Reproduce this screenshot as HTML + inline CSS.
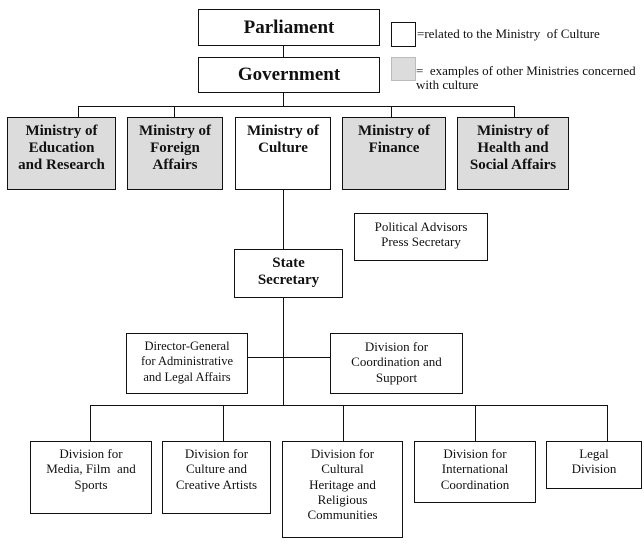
<!DOCTYPE html>
<html>
<head>
<meta charset="utf-8">
<style>
  html, body { margin:0; padding:0; background:#fff; }
  body { width:644px; height:545px; position:relative; overflow:hidden; font-family:"Liberation Serif", serif; color:#111; }
  .b { position:absolute; box-sizing:border-box; border:1px solid #111; background:#fff; text-align:center; }
  .g { background:#dcdcdc; }
  .min { font-weight:bold; font-size:15px; line-height:17px; padding-top:5px; }
  .div { font-size:13px; line-height:15.3px; padding-top:4px; }
  .top { font-weight:bold; font-size:19px; display:flex; align-items:center; justify-content:center; }
  svg { position:absolute; left:0; top:0; }
  .leg { position:absolute; font-size:13px; line-height:14px; white-space:nowrap; }
</style>
</head>
<body>
<svg width="644" height="545" viewBox="0 0 644 545">
  <g stroke="#111" stroke-width="1" fill="none">
    <line x1="283.5" y1="45" x2="283.5" y2="57"/>
    <line x1="283.5" y1="92" x2="283.5" y2="106"/>
    <line x1="78" y1="106.5" x2="515" y2="106.5"/>
    <line x1="78.5" y1="106" x2="78.5" y2="118"/>
    <line x1="174.5" y1="106" x2="174.5" y2="118"/>
    <line x1="391.5" y1="106" x2="391.5" y2="118"/>
    <line x1="514.5" y1="106" x2="514.5" y2="118"/>
    <line x1="283.5" y1="189" x2="283.5" y2="406"/>
    <line x1="247" y1="357.5" x2="331" y2="357.5"/>
    <line x1="90" y1="405.5" x2="608" y2="405.5"/>
    <line x1="90.5" y1="405" x2="90.5" y2="442"/>
    <line x1="223.5" y1="405" x2="223.5" y2="442"/>
    <line x1="343.5" y1="405" x2="343.5" y2="442"/>
    <line x1="475.5" y1="405" x2="475.5" y2="442"/>
    <line x1="607.5" y1="405" x2="607.5" y2="442"/>
  </g>
</svg>

<div class="b top" style="left:198px;top:9px;width:182px;height:37px;">Parliament</div>
<div class="b top" style="left:198px;top:57px;width:182px;height:36px;">Government</div>

<div class="b" style="left:391px;top:22px;width:25px;height:25px;"></div>
<div class="leg" style="left:417px;top:27px;">=related to the Ministry&nbsp; of Culture</div>
<div class="b g" style="left:391px;top:57px;width:25px;height:24px;border-color:#bbb;"></div>
<div class="leg" style="left:416px;top:64px;">= &nbsp;examples of other Ministries concerned<br>with culture</div>

<div class="b g min" style="left:7px;top:117px;width:109px;height:73px;">Ministry of<br>Education<br>and Research</div>
<div class="b g min" style="left:127px;top:117px;width:96px;height:73px;">Ministry of<br>Foreign<br>Affairs</div>
<div class="b min" style="left:235px;top:117px;width:96px;height:73px;">Ministry of<br>Culture</div>
<div class="b g min" style="left:342px;top:117px;width:104px;height:73px;">Ministry of<br>Finance</div>
<div class="b g min" style="left:457px;top:117px;width:112px;height:73px;">Ministry of<br>Health and<br>Social Affairs</div>

<div class="b div" style="left:354px;top:213px;width:134px;height:48px;padding-top:5px;">Political Advisors<br>Press Secretary</div>
<div class="b min" style="left:234px;top:249px;width:109px;height:49px;padding-top:5px;">State<br>Secretary</div>

<div class="b div" style="left:126px;top:333px;width:122px;height:61px;font-size:12.5px;padding-top:5px;">Director-General<br>for Administrative<br>and Legal Affairs</div>
<div class="b div" style="left:330px;top:333px;width:133px;height:61px;padding-top:5px;">Division for<br>Coordination and<br>Support</div>

<div class="b div" style="left:30px;top:441px;width:122px;height:73px;">Division for<br>Media, Film&nbsp; and<br>Sports</div>
<div class="b div" style="left:162px;top:441px;width:109px;height:73px;">Division for<br>Culture and<br>Creative Artists</div>
<div class="b div" style="left:282px;top:441px;width:121px;height:97px;">Division for<br>Cultural<br>Heritage and<br>Religious<br>Communities</div>
<div class="b div" style="left:414px;top:441px;width:122px;height:62px;">Division for<br>International<br>Coordination</div>
<div class="b div" style="left:546px;top:441px;width:96px;height:48px;">Legal<br>Division</div>
</body>
</html>
